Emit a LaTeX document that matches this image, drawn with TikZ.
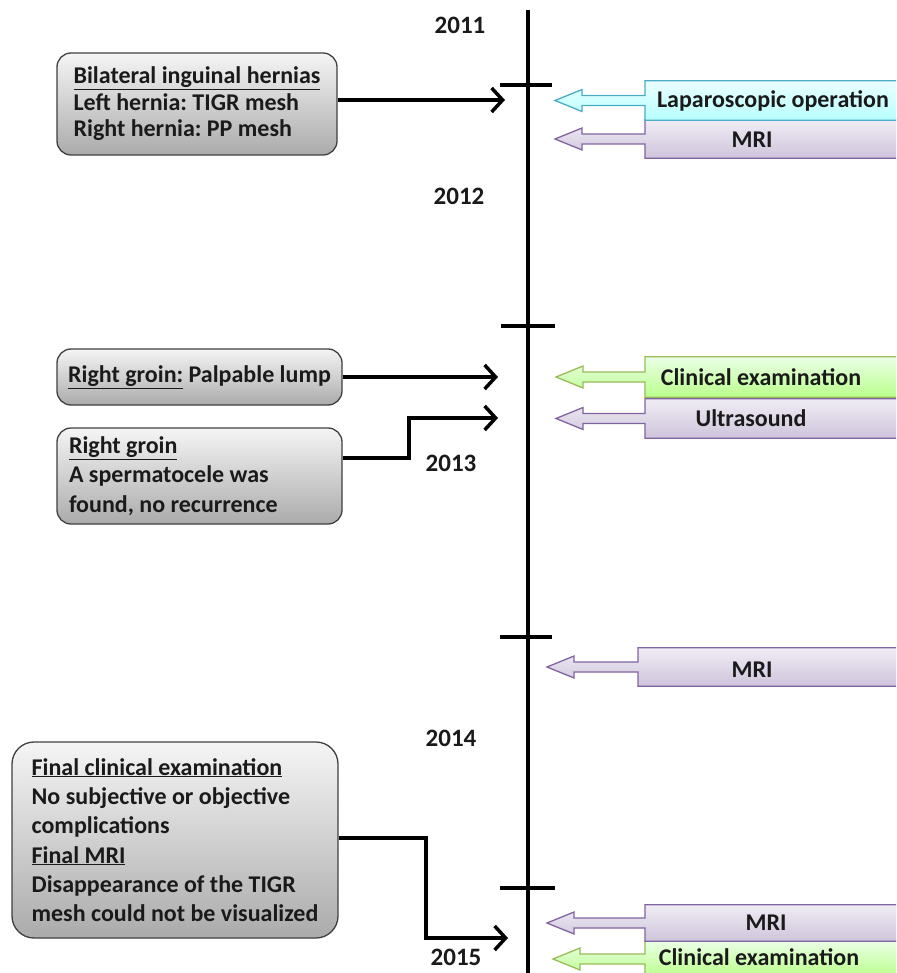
\documentclass[tikz,border=0pt]{standalone}
\usepackage{fontspec}
\setmainfont{Carlito}
\frenchspacing
\usetikzlibrary{arrows.meta,calc}
\definecolor{txt}{HTML}{1A1A1A}
\definecolor{cyanB}{HTML}{4BACC6}
\definecolor{purB}{HTML}{8064A2}
\definecolor{grnB}{HTML}{9BBB59}
\tikzset{
  leftbox/.style={draw=black!75, line width=1.3pt, rounded corners=14pt,
    top color=black!4, bottom color=black!33, text=txt, align=left,
    font=\bfseries\fontsize{24}{26.5}\selectfont, inner xsep=0pt, inner ysep=0pt},
  rbox/.style={minimum width=275pt, inner sep=0pt, anchor=west},
  rlabel/.style={text=txt, font=\bfseries\fontsize{24}{26}\selectfont, inner sep=0pt},
  year/.style={text=txt, font=\bfseries\fontsize{25}{28}\selectfont, inner sep=0pt},
  conn/.style={line width=4pt, -{Straight Barb[length=11pt,width=24pt,line width=3.5pt]}},
  cyanshape/.style={draw=cyanB, line width=1.3pt, top color=cyan!8!white, bottom color=cyan!28!white},
  purshape/.style={draw=purB, line width=1.3pt, top color=purB!12!white, bottom color=purB!38!white},
  grnshape/.style={draw=grnB, line width=1.3pt, top color=yellow!20!green!10!white, bottom color=yellow!40!green!45!white},
}
\newcommand\callout[3]{%
  \path[#3] (#1.north east) -- (#1.north west) -- ($(#1.west)+(0,-5)$)
   -- ($(#1.west)+({-#2+27},-5)$) -- ($(#1.west)+({-#2+27},-11)$)
   -- ($(#1.west)+(-#2,0)$) -- ($(#1.west)+({-#2+27},11)$)
   -- ($(#1.west)+({-#2+27},5)$) -- ($(#1.west)+(0,5)$)
   -- (#1.south west) -- (#1.south east) -- cycle;}
\begin{document}
\begin{tikzpicture}[x=1pt,y=-1pt]
\useasboundingbox (0,0) rectangle (896,973);
\clip (0,0) rectangle (896,973);
\fill[white] (0,0) rectangle (896,973);

% timeline
\draw[line width=4pt, black] (528,10) -- (528,975);
\foreach \y/\a/\b in {85/500/552, 326/501/555, 637/500/552, 888/500/555}
  \draw[line width=3.5pt] (\a,\y) -- (\b,\y);

% years
\node[year] (y2011) at (460,25) {2011};
\node[year] (y2012) at (459,196) {2012};
\node[year] (y2013) at (451,463) {2013};
\node[year] (y2014) at (451,738) {2014};
\node[year] (y2015) at (456,957) {2015};

% right side callouts
\node[rbox, minimum height=38pt] (mri1) at (645,139) {};
\callout{mri1}{90}{purshape}
\node[rbox, minimum height=39pt] (lap) at (645,100.5) {};
\callout{lap}{90}{cyanshape}
\node[rlabel] (laptxt) at (773,100.5) {Laparoscopic operation};
\node[rlabel] (mri1txt) at (752,139.5) {MRI};

\node[rbox, minimum height=39pt] (us) at (645,418.5) {};
\callout{us}{89}{purshape}
\node[rbox, minimum height=40pt] (ce1) at (645,377) {};
\callout{ce1}{89}{grnshape}
\node[rlabel] (ce1txt) at (761,377) {Clinical examination};
\node[rlabel] (ustxt) at (751,418.5) {Ultrasound};

\node[rbox, minimum height=38pt] (mri2) at (638,667) {};
\callout{mri2}{91}{purshape}
\node[rlabel] (mri2txt) at (752,670) {MRI};

\node[rbox, minimum height=36pt] (ce2) at (645,959) {};
\callout{ce2}{92}{grnshape}
\node[rbox, minimum height=36pt] (mri3) at (645,923) {};
\callout{mri3}{98}{purshape}
\node[rlabel] (mri3txt) at (766,923) {MRI};
\node[rlabel] (ce2txt) at (759,957) {Clinical examination};

% left boxes
\node[leftbox, minimum width=280pt, minimum height=102pt] (b1) at (197,104)
  {\underline{Bilateral inguinal hernias}\\Left hernia: TIGR mesh\\Right hernia: PP mesh};
\node[leftbox, minimum width=285pt, minimum height=56pt] (b2) at (199.5,377)
  {\underline{Right groin:} Palpable lump};
\node[leftbox, text width=261pt, inner xsep=12pt, minimum height=96pt, align=flush left,
  font=\bfseries\fontsize{24}{29.5}\selectfont] (b3) at (199.5,476)
  {\underline{Right groin}\\A spermatocele was\\found, no recurrence};
\node[leftbox, minimum width=326pt, minimum height=196pt, rounded corners=22pt,
  font=\bfseries\fontsize{24}{29.3}\selectfont] (b4) at (175,840)
  {\underline{Final clinical examination}\\No subjective or objective\\complications\\\underline{Final MRI}\\Disappearance of the TIGR\\mesh could not be visualized};

% connectors
\coordinate (a1) at (505,100);
\coordinate (a2) at (498,377);
\coordinate (a3) at (498,418);
\coordinate (a4) at (508,938);
\draw[conn] (b1.east |- a1) -- (a1);
\draw[conn] (b2.east |- a2) -- (a2);
\draw[conn] ($(b3.east)+(0,-18)$) -- ($(b3.east)+(66,-18)$) |- (a3);
\draw[conn] ($(b4.east)+(0,-2)$) -- ($(b4.east)+(87,-2)$) |- (a4);
\end{tikzpicture}
\end{document}
